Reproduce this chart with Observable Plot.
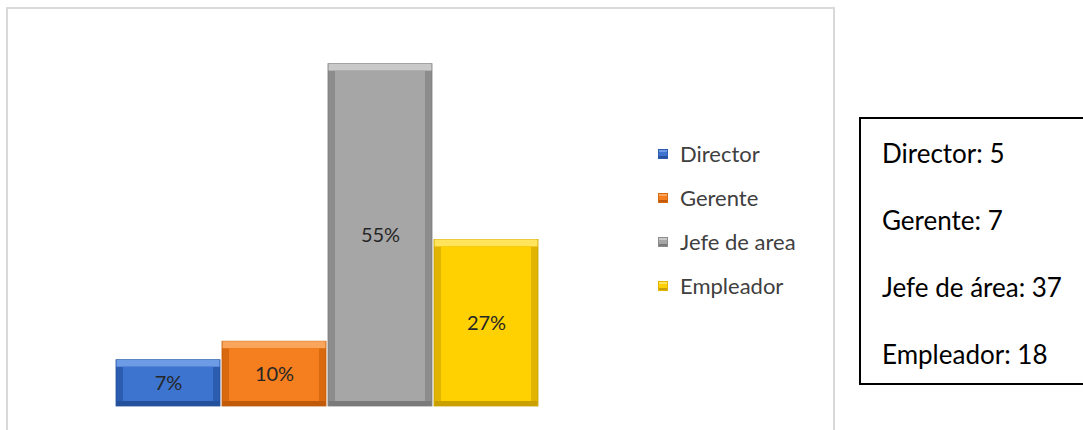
<!DOCTYPE html>
<html>
<head>
<meta charset="utf-8">
<script src="https://cdn.jsdelivr.net/npm/d3@7"></script>
<script src="https://cdn.jsdelivr.net/npm/@observablehq/plot@0.6"></script>
<style>
  html, body { margin: 0; padding: 0; background: #fff; }
  #wrap { position: relative; width: 1083px; height: 430px; overflow: hidden; font-family: Lato, "Open Sans", sans-serif; }
  #frame { position: absolute; left: 6px; top: 7px; width: 825px; height: 430px; border: 2px solid #d9d9d9; border-bottom: none; }
  #chart { position: absolute; left: 0; top: 0; }
  #legend { position: absolute; left: 658px; top: 141px; color: #404040; font-size: 22px; line-height: 26px; }
  .li { height: 44px; display: flex; align-items: flex-start; }
  .sw { width: 10px; height: 10px; margin-top: 8px; margin-right: 12px; box-sizing: border-box; }
  #box { position: absolute; left: 859px; top: 117px; width: 240px; height: 268px; border: 2px solid #000; box-sizing: border-box; font-size: 26px; line-height: 26px; color: #000; }
  #box div { position: absolute; left: 21px; white-space: nowrap; }
</style>
</head>
<body>
<div id="wrap">
  <div id="frame"></div>
  <div id="chart"></div>
  <div id="legend"></div>
  <div id="box"></div>
</div>
<script>
const categories = ["Director", "Gerente", "Jefe de area", "Empleador"];
const boxLabels = ["Director", "Gerente", "Jefe de área", "Empleador"];
const counts = [5, 7, 37, 18];
const percentLabels = ["7%", "10%", "55%", "27%"];
const faceColors = ["#3c74d0", "#f57f1f", "#a6a6a6", "#ffd100"];
const topColors = ["#6d9be6", "#f9a55c", "#c9c9c9", "#ffe45c"];
const sideColors = ["#2c5cb0", "#d8690e", "#8c8c8c", "#e0b400"];
const bottomColors = ["#24509c", "#c05a08", "#7a7a7a", "#c9a000"];

const total = d3.sum(counts);
const data = categories.map((c, i) => ({
  cat: c, pct: counts[i] / total * 100, label: percentLabels[i],
  face: faceColors[i], top: topColors[i], side: sideColors[i], bottom: bottomColors[i]
}));

const chart = Plot.plot({
  width: 833,
  height: 430,
  marginLeft: 114,
  marginRight: 294,
  marginTop: 34,
  marginBottom: 24,
  x: { domain: categories, padding: 0, axis: null },
  y: { domain: [0, 60], axis: null },
  color: { type: "identity" },
  style: { background: "transparent", overflow: "visible" },
  marks: [
    Plot.barY(data, { x: "cat", y: "pct", fill: "side", insetLeft: 1, insetRight: 1, stroke: "bottom", strokeWidth: 0.8 }),
    Plot.barY(data, { x: "cat", y1: "pct", y2: "pct", fill: "top", insetLeft: 1.5, insetRight: 1.5, insetBottom: -7 }),
    Plot.barY(data, { x: "cat", y1: 0, y2: 0, fill: "bottom", insetLeft: 1.5, insetRight: 1.5, insetTop: -5 }),
    Plot.barY(data, { x: "cat", y: "pct", fill: "face", insetLeft: 8, insetRight: 8, insetTop: 7, insetBottom: 5 }),
    Plot.text(data, { x: "cat", y: d => d.pct / 2, text: "label", fill: "#262626", fontSize: 20, fontFamily: "Lato, 'Open Sans', sans-serif" })
  ]
});
document.getElementById("chart").appendChild(chart);

const legend = document.getElementById("legend");
categories.forEach((c, i) => {
  const row = document.createElement("div");
  row.className = "li";
  const sw = document.createElement("div");
  sw.className = "sw";
  sw.style.background = `linear-gradient(${topColors[i]} 0 30%, ${faceColors[i]} 30% 80%, ${bottomColors[i]} 80%)`;
  sw.style.border = `1px solid ${sideColors[i]}`;
  const t = document.createElement("span");
  t.textContent = c;
  row.appendChild(sw); row.appendChild(t);
  legend.appendChild(row);
});

const box = document.getElementById("box");
boxLabels.forEach((c, i) => {
  const d = document.createElement("div");
  d.textContent = `${c}: ${counts[i]}`;
  d.style.top = (21 + i * 67) + "px";
  box.appendChild(d);
});
</script>
</body>
</html>
